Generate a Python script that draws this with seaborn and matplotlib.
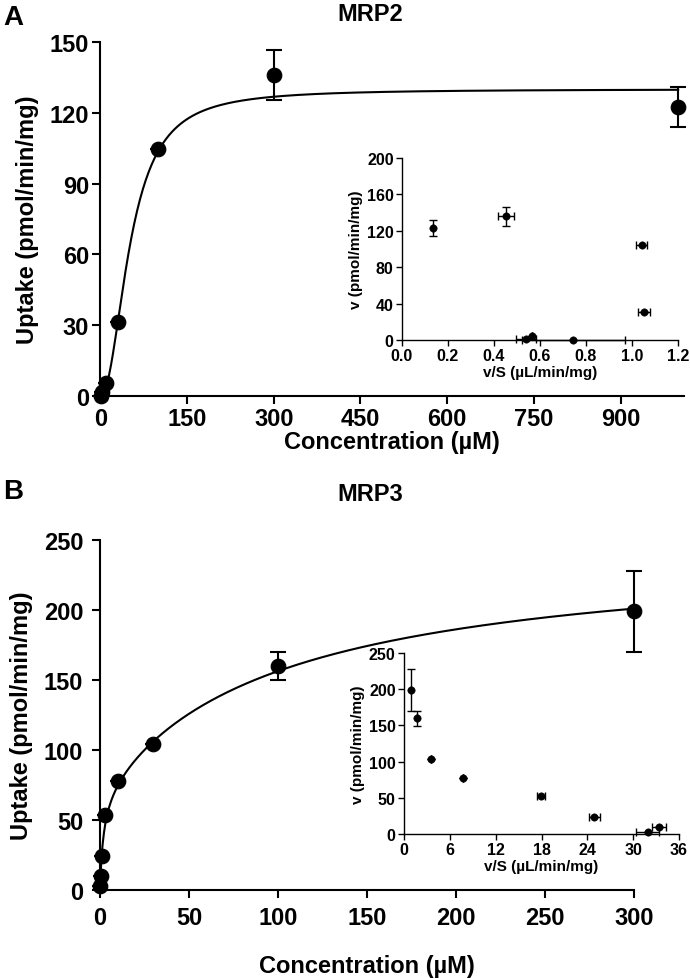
import numpy as np
import pandas as pd
import seaborn as sns
import matplotlib.pyplot as plt

# MRP2 uptake (main panel A)
mrp2_conc = [1, 3, 10, 30, 100, 300, 1000]
mrp2_uptake = [0.0, 1.6, 5.5, 31.5, 104.7, 136.0, 122.5]
mrp2_err = [0, 0, 0, 0, 0, 10.5, 8.5]

# MRP2 Eadie-Hofstee inset
mrp2_vs = [0.745, 0.539, 0.564, 1.052, 1.042, 0.452, 0.136]
mrp2_v = [0.0, 0.7, 4.8, 31.1, 104.4, 136.0, 122.7]
mrp2_vs_err = [0.225, 0.045, 0.0, 0.025, 0.025, 0.036, 0.0]
mrp2_v_err = [0, 0, 0, 0, 0, 10.6, 8.8]

# MRP3 uptake (main panel B)
mrp3_conc = [0.1, 0.3, 1, 3, 10, 30, 100, 300]
mrp3_uptake = [2.5, 9.5, 24.3, 53.6, 77.6, 104.0, 159.5, 199.0]
mrp3_err = [0, 0, 0, 0, 0, 0, 10.0, 29.0]

# MRP3 Eadie-Hofstee inset
mrp3_vs = [31.9, 33.4, 24.9, 17.9, 7.75, 3.53, 1.70, 0.95]
mrp3_v = [2.3, 9.2, 23.9, 52.9, 76.9, 104.0, 159.8, 199.3]
mrp3_vs_err = [1.5, 0.95, 0.7, 0.5, 0, 0, 0, 0]
mrp3_v_err = [0, 0, 0, 0, 0, 0, 10.0, 29.0]

# fitted model parameters
hill_vmax, hill_k, hill_n = 130.0, 52.0, 2.1
v1, k1, v2, k2 = 70.0, 2.0, 175.0, 100.0

sns.set_style("ticks")
plt.rcParams['font.family'] = ['Liberation Sans', 'DejaVu Sans']
plt.rcParams['font.weight'] = 'bold'
plt.rcParams['axes.labelweight'] = 'bold'
plt.rcParams['text.color'] = 'black'
plt.rcParams['axes.labelcolor'] = 'black'

fig = plt.figure(figsize=(6.9, 9.79), dpi=100)


def style_axis(ax, lw, ticklen, fs, pad=2):
    sns.despine(ax=ax)
    for s in ['left', 'bottom']:
        ax.spines[s].set_linewidth(lw)
        ax.spines[s].set_color('black')
    ax.tick_params(width=lw, length=ticklen, labelsize=fs, color='black',
                   labelcolor='black', pad=pad)
    for lab in ax.get_xticklabels() + ax.get_yticklabels():
        lab.set_fontweight('bold')
    ax.set_facecolor('none')


def draw_main(ax, x, y, err, curve_x, curve_y):
    sns.lineplot(x=curve_x, y=curve_y, ax=ax, color='black', linewidth=1.5,
                 clip_on=False)
    ax.errorbar(x, y, yerr=err, fmt='none', ecolor='black', elinewidth=1.5,
                capsize=6, capthick=1.5, clip_on=False)
    sns.scatterplot(x=x, y=y, ax=ax, color='black', s=110, edgecolor='black',
                    clip_on=False, zorder=5)


def draw_inset(ax, x, y, xerr, yerr):
    ax.errorbar(x, y, xerr=xerr, yerr=yerr, fmt='none', ecolor='black',
                elinewidth=1.0, capsize=3, capthick=1.0, clip_on=False)
    sns.scatterplot(x=x, y=y, ax=ax, color='black', s=28, edgecolor='black',
                    clip_on=False, zorder=5)


# ---- Panel A ----
axA = fig.add_axes([0.1455, 0.5945, 0.846, 0.3616])
xa = np.linspace(0, 1000, 600)
ya = hill_vmax * xa ** hill_n / (hill_k ** hill_n + xa ** hill_n)
draw_main(axA, mrp2_conc, mrp2_uptake, mrp2_err, xa, ya)
axA.set_xlim(0, 1010)
axA.set_ylim(0, 150)
axA.set_xticks(range(0, 901, 150))
axA.set_yticks(range(0, 151, 30))
style_axis(axA, 1.5, 6, 17)
axA.set_xlabel('Concentration (µM)', fontsize=17, fontweight='bold', labelpad=0)
axA.set_ylabel('Uptake (pmol/min/mg)', fontsize=17, fontweight='bold', labelpad=8)

insA = fig.add_axes([0.5826, 0.6517, 0.4, 0.1859])
draw_inset(insA, mrp2_vs, mrp2_v, mrp2_vs_err, mrp2_v_err)
insA.set_xlim(0, 1.2)
insA.set_ylim(0, 200)
insA.set_xticks(np.arange(0, 1.21, 0.2))
insA.set_xticklabels(['0.0', '0.2', '0.4', '0.6', '0.8', '1.0', '1.2'])
insA.set_yticks(range(0, 201, 40))
style_axis(insA, 1.0, 4, 11.5)
insA.set_xlabel('v/S (µL/min/mg)', fontsize=11, fontweight='bold', labelpad=1)
insA.set_ylabel('v (pmol/min/mg)', fontsize=11, fontweight='bold', labelpad=3)

# ---- Panel B ----
axB = fig.add_axes([0.1449, 0.0902, 0.774, 0.3575])
xb = np.linspace(0, 300, 800)
yb = v1 * xb / (k1 + xb) + v2 * xb / (k2 + xb)
draw_main(axB, mrp3_conc, mrp3_uptake, mrp3_err, xb, yb)
axB.set_xlim(0, 300)
axB.set_ylim(0, 250)
axB.set_xticks(range(0, 301, 50))
axB.set_yticks(range(0, 251, 50))
style_axis(axB, 1.5, 6, 17, pad=6)
axB.set_xlabel('Concentration (µM)', fontsize=17, fontweight='bold', labelpad=18)
axB.set_ylabel('Uptake (pmol/min/mg)', fontsize=17, fontweight='bold', labelpad=8)

insB = fig.add_axes([0.5855, 0.1471, 0.3986, 0.1849])
draw_inset(insB, mrp3_vs, mrp3_v, mrp3_vs_err, mrp3_v_err)
insB.set_xlim(0, 36)
insB.set_ylim(0, 250)
insB.set_xticks(range(0, 37, 6))
insB.set_yticks(range(0, 251, 50))
style_axis(insB, 1.0, 4, 11.5)
insB.set_xlabel('v/S (µL/min/mg)', fontsize=11, fontweight='bold', labelpad=1)
insB.set_ylabel('v (pmol/min/mg)', fontsize=11, fontweight='bold', labelpad=3)

# titles and panel letters
fig.text(0.536, 0.985, 'MRP2', ha='center', va='center', fontsize=17, fontweight='bold')
fig.text(0.536, 0.495, 'MRP3', ha='center', va='center', fontsize=17, fontweight='bold')
fig.text(0.005, 0.982, 'A', ha='left', va='center', fontsize=20, fontweight='bold')
fig.text(0.005, 0.497, 'B', ha='left', va='center', fontsize=20, fontweight='bold')

fig.savefig('out.png', dpi=100)
